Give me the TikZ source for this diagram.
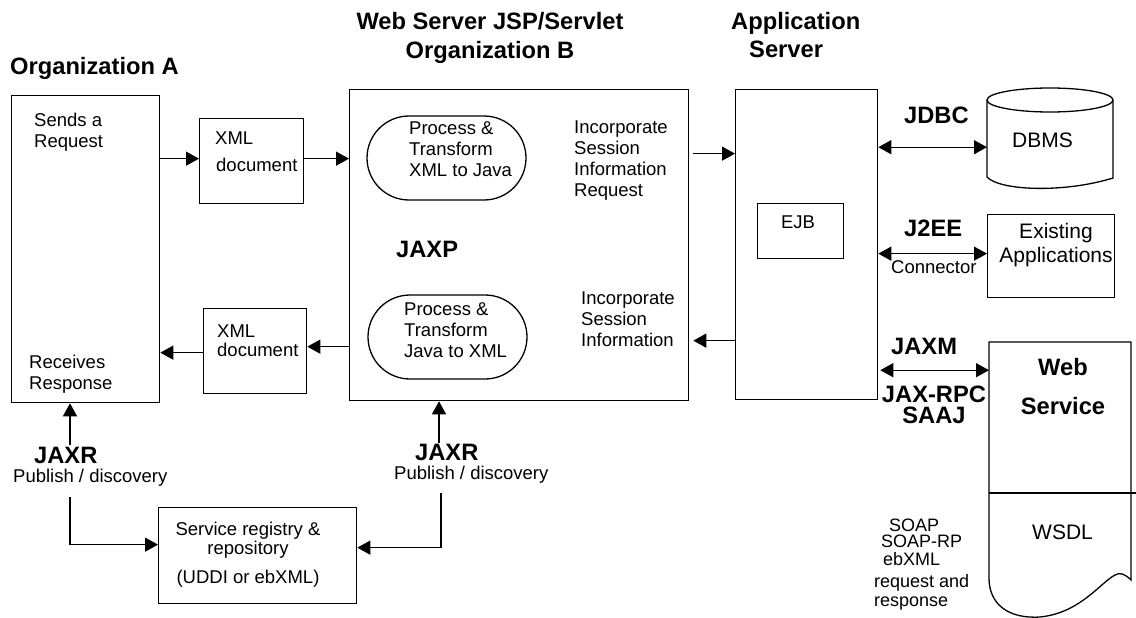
\documentclass[tikz,border=0pt]{standalone}
\usepackage{fontspec}
\setmainfont{Liberation Sans}
\usetikzlibrary{arrows.meta,shapes.misc}

\newcommand\regtext{\fontsize{18.5}{20.5}\selectfont}
\newcommand\bigtext{\fontsize{21}{24}\selectfont}
\newcommand\headtext{\fontsize{23.7}{29}\selectfont\bfseries}

\begin{document}
\begin{tikzpicture}[x=1pt,y=-1pt,
  box/.style={draw, line width=1.3pt, inner sep=0pt, anchor=north west},
  oval/.style={draw, line width=1.3pt, rounded rectangle, inner sep=0pt, anchor=center},
  area/.style={inner sep=0pt, anchor=north west},
  lbl/.style={inner sep=0pt, anchor=north west, align=left, font=\regtext},
  head/.style={inner sep=0pt, anchor=north west, align=left, font=\headtext},
  link/.style={line width=1.3pt, -{Triangle[length=13pt,width=14pt]}},
  both/.style={line width=1.3pt, {Triangle[length=13pt,width=14pt]}-{Triangle[length=13pt,width=14pt]}},
  outline/.style={line width=1.3pt}
]
\fill[white] (0,0) rectangle (1136,618);
\useasboundingbox (0,0) rectangle (1136,618);

% ---------- boxes ----------
\node[box, minimum width=148pt, minimum height=307pt] (orgA) at (11,95) {};
\node[box, minimum width=104pt, minimum height=85pt] (xmlA) at (199,118) {};
\node[box, minimum width=103pt, minimum height=85pt] (xmlB) at (203,308) {};
\node[box, minimum width=339pt, minimum height=311pt] (orgB) at (349,89) {};
\node[oval, minimum width=159pt, minimum height=84pt] (toJava) at (446.5,158) {};
\node[oval, minimum width=159pt, minimum height=84pt] (toXml) at (447.5,337) {};
\node[box, minimum width=142pt, minimum height=310pt] (appsrv) at (735,89) {};
\node[box, minimum width=86pt, minimum height=55pt] (ejb) at (757,203) {};
\node[box, minimum width=127pt, minimum height=83pt] (legacy) at (987,214) {};
\node[box, minimum width=198pt, minimum height=96pt] (registry) at (158,507) {};

% database cylinder
\node[area, minimum width=126pt, minimum height=89pt] (dbms) at (987,88) {};
\draw[outline] (1050,100) ellipse [x radius=63pt, y radius=12pt];
\draw[outline] (987,100) -- (987,177) .. controls (1000,191) and (1065,193) .. (1113,178) -- (1113,100);

% web service document
\node[area, minimum width=142pt, minimum height=238pt] (websvc) at (989,342) {};
\draw[outline] (989,342) -- (1131,342) -- (1131,580)
  .. controls (1125,574) and (1120,572) .. (1115,575)
  .. controls (1100,583) and (1080,613) .. (1040,617)
  .. controls (1008,619) and (989,604) .. (989,578) -- cycle;
\draw[outline] (989,493) -- (1136,493);

% ---------- headings ----------
\node[head] (hA) at (10,57) {Organization A};
\node[head, anchor=north, align=center] (hB) at (490,12) {Web Server JSP/Servlet\\Organization B};
\node[head] (hC1) at (731,12) {Application};
\node[head] (hC2) at (749,41) {Server};

% ---------- labels ----------
\node[lbl] (tSend) at (34,113) {Sends a\\Request};
\node[lbl] (tRecv) at (29,355) {Receives\\Response};
\node[lbl] (tXmlA) at (215,132) {XML\\[6pt]\hspace*{1pt}document};
\node[lbl] (tXmlB) at (217,325) {XML\\[-1.5pt]document};
\node[lbl] (tJava) at (409,121) {Process \&\\[0.5pt]Transform\\[0.5pt]XML to Java};
\node[lbl] (tXml) at (404,302) {Process \&\\[0.5pt]Transform\\[0.5pt]Java to XML};
\node[lbl] (tInc1) at (574,121) {Incorporate\\[0.5pt]Session\\[0.5pt]Information\\[0.5pt]Request};
\node[lbl] (tInc2) at (581,292) {Incorporate\\[0.5pt]Session\\[0.5pt]Information};
\node[head] (tJaxp) at (396,241) {JAXP};
\node[lbl, anchor=north] (tEjb) at (798,216) {EJB};
\node[head] (tJdbc) at (904,107) {JDBC};
\node[lbl, font=\bigtext] (tDbms) at (1012,133) {DBMS};
\node[head] (tJ2ee) at (904,220) {J2EE};
\node[lbl] (tConn) at (891,260) {Connector};
\node[lbl, anchor=north, align=center, font=\bigtext] (tLegacy) at (1056,223) {Existing\\Applications};
\node[head] (tJaxm) at (891,338) {JAXM};
\node[head, anchor=north, align=center, font=\fontsize{23.7}{21}\selectfont\bfseries] (tRpc) at (934,386) {JAX-RPC\\SAAJ};
\node[head, anchor=north, align=center, font=\fontsize{23.7}{39}\selectfont\bfseries] (tWeb) at (1063,358) {Web\\Service};
\node[lbl, font=\bigtext] (tWsdl) at (1032,525) {WSDL};
\node[lbl, font=\fontsize{18}{17}\selectfont] (tSoap) at (874,519)
  {\hspace*{15pt}SOAP\\[-1pt]\hspace*{7pt}SOAP-RP\\[1pt]\hspace*{9pt}ebXML\\[5pt]request and\\[2pt]response};
\node[head] (tJaxrA) at (34,447) {JAXR};
\node[lbl] (tPubA) at (13,469) {Publish / discovery};
\node[head] (tJaxrB) at (415,444) {JAXR};
\node[lbl] (tPubB) at (394,466) {Publish / discovery};
\node[lbl, anchor=north, align=center] (tReg) at (248,522)
  {Service registry \&\\[-1.5pt]repository\\[8pt](UDDI or ebXML)};

% ---------- connectors ----------
\coordinate (p1) at ([yshift=2.5pt]xmlA.west);
\draw[link] (p1 -| orgA.east) -- (p1);
\draw[link] (p1 -| xmlA.east) -- (p1 -| orgB.west);

\coordinate (p2) at ([yshift=91pt]appsrv.west);
\draw[link] ([xshift=4pt]orgB.east |- p2) -- (p2);
\coordinate (p3) at ([yshift=-96pt]appsrv.west);
\draw[link] (p3) -- ([xshift=4pt]orgB.east |- p3);

\coordinate (p4) at ([yshift=4.5pt]xmlB.east);
\draw[link] (p4 -| orgB.west) -- (p4);
\coordinate (p5) at ([yshift=-1.5pt]xmlB.west);
\draw[link] (p5) -- (p5 -| orgA.east);

\coordinate (p6) at ([yshift=-14.5pt]dbms.west);
\draw[both] (p6 -| appsrv.east) -- (p6);
\coordinate (p7) at ([yshift=2.5pt]legacy.west);
\draw[both] (p7 -| appsrv.east) -- (p7);
\coordinate (p8) at ([yshift=91pt]websvc.west);
\draw[both] ([xshift=2pt]appsrv.east |- p8) -- (p8);

\coordinate (jaxrA) at (70,445);
\draw[link] (jaxrA) -- (jaxrA |- orgA.south);
\coordinate (jaxrB) at (439,443);
\draw[link] (jaxrB) -- (jaxrB |- orgB.south);

\coordinate (regA) at (70,497);
\coordinate (p9) at ([yshift=11pt]registry.west);
\draw[link] (regA) |- (p9);
\coordinate (regB) at (441,493);
\coordinate (p10) at ([yshift=8pt]registry.east);
\draw[link] (regB) |- (p10);
\end{tikzpicture}
\end{document}
